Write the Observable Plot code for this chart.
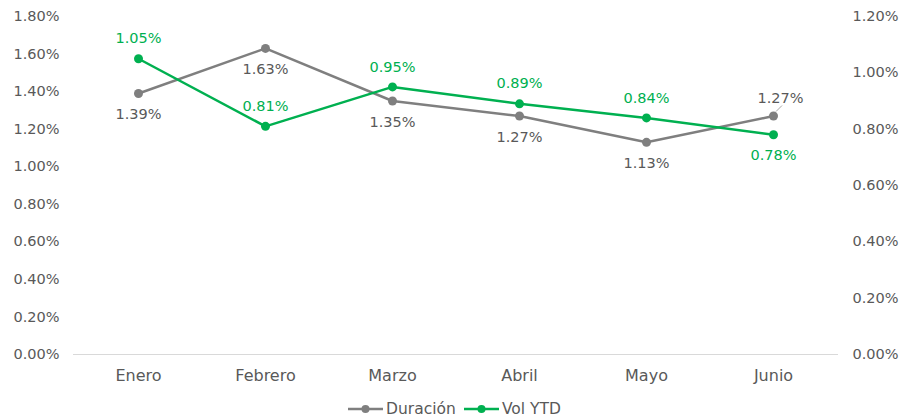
<!DOCTYPE html>
<html>
<head>
<meta charset="utf-8">
<script src="https://cdn.jsdelivr.net/npm/d3@7"></script>
<script src="https://cdn.jsdelivr.net/npm/@observablehq/plot@0.6"></script>
<style>
  html, body { margin: 0; padding: 0; background: #fff; }
  #chart { width: 899px; height: 390px; }
  .legend { display: flex; justify-content: center; align-items: center; gap: 8px; height: 29px; padding-top: 4px;
            font-family: "DejaVu Sans", Verdana, sans-serif; font-size: 15.5px; color: #595959; margin-left: 10px; }
  .legend .item { display: flex; align-items: center; gap: 3px; }
</style>
</head>
<body>
<div id="chart"></div>
<script>
const months = ["Enero", "Febrero", "Marzo", "Abril", "Mayo", "Junio"];
const duracion = [1.39, 1.63, 1.35, 1.27, 1.13, 1.27];
const volYTD = [1.05, 0.81, 0.95, 0.89, 0.84, 0.78];
const leftTicks = [0, 0.2, 0.4, 0.6, 0.8, 1.0, 1.2, 1.4, 1.6, 1.8];
const rightTicks = [0, 0.2, 0.4, 0.6, 0.8, 1.0, 1.2];
const seriesNames = ["Duración", "Vol YTD"];

const GRAY = "#7f7f7f", GREEN = "#00b050", TEXT = "#595959";
const ratio = 1.8 / 1.2; // right axis max maps to left axis max

const dur = months.map((m, i) => ({month: m, v: duracion[i], y: duracion[i]}));
const vol = months.map((m, i) => ({month: m, v: volYTD[i], y: volYTD[i] * ratio}));

const durBelow = dur.filter((d, i) => i < 5);
const durAbove = dur.filter((d, i) => i === 5);
const volAbove = vol.filter((d, i) => i < 5);
const volBelow = vol.filter((d, i) => i === 5);
const fmt = d => d.v.toFixed(2) + "%";
const FS = 14.5;

const chart = Plot.plot({
  width: 899,
  height: 390,
  marginLeft: 73,
  marginRight: 61,
  marginTop: 16,
  marginBottom: 36,
  style: {fontFamily: "'DejaVu Sans', Verdana, sans-serif", fontSize: FS + "px", color: TEXT, background: "#fff"},
  x: {type: "point", domain: months, padding: 0.5},
  y: {domain: [0, 1.8]},
  marks: [
    Plot.ruleY([0], {stroke: "#d9d9d9", strokeWidth: 1}),
    Plot.axisY({anchor: "left", ticks: leftTicks, tickSize: 0, tickPadding: 14, tickFormat: d => d.toFixed(2) + "%", label: null, fill: TEXT, fontSize: FS}),
    Plot.axisY({anchor: "right", ticks: rightTicks.map(t => t * ratio), tickSize: 0, tickPadding: 14, tickFormat: d => (d / ratio).toFixed(2) + "%", label: null, fill: TEXT, fontSize: FS}),
    Plot.axisX({tickSize: 0, tickPadding: 15, label: null, fill: TEXT, fontSize: 16}),
    Plot.line(dur, {x: "month", y: "y", stroke: GRAY, strokeWidth: 2.5}),
    Plot.line(vol, {x: "month", y: "y", stroke: GREEN, strokeWidth: 2.5}),
    Plot.dot(dur, {x: "month", y: "y", r: 4.5, fill: GRAY}),
    Plot.dot(vol, {x: "month", y: "y", r: 4.5, fill: GREEN}),
    Plot.text(durBelow, {x: "month", y: "y", text: fmt, dy: 21, fill: TEXT, fontSize: FS}),
    Plot.text(durAbove, {x: "month", y: "y", text: fmt, dy: -18, dx: 7, fill: TEXT, fontSize: FS}),
    Plot.text(volAbove, {x: "month", y: "y", text: fmt, dy: -20, fill: GREEN, fontSize: FS}),
    Plot.text(volBelow, {x: "month", y: "y", text: fmt, dy: 21, fill: GREEN, fontSize: FS})
  ]
});
document.getElementById("chart").appendChild(chart);

// leader line for the Junio Duración label
{
  const xs = chart.scale("x"), ys = chart.scale("y");
  const d = durAbove[0];
  const px = xs.apply(d.month), py = ys.apply(d.y);
  d3.select(chart).append("line").attr("x1", px + 3).attr("y1", py - 4).attr("x2", px + 9).attr("y2", py - 10)
    .attr("stroke", "#a6a6a6").attr("stroke-width", 1);
}

const legend = d3.select("body").append("div").attr("class", "legend");
[[seriesNames[0], GRAY], [seriesNames[1], GREEN]].forEach(([name, color]) => {
  const it = legend.append("div").attr("class", "item");
  const s = it.append("svg").attr("width", 35).attr("height", 12);
  s.append("line").attr("x1", 0).attr("x2", 35).attr("y1", 6).attr("y2", 6).attr("stroke", color).attr("stroke-width", 2.5);
  s.append("circle").attr("cx", 17.5).attr("cy", 6).attr("r", 4).attr("fill", color);
  it.append("span").text(name);
});
</script>
</body>
</html>
